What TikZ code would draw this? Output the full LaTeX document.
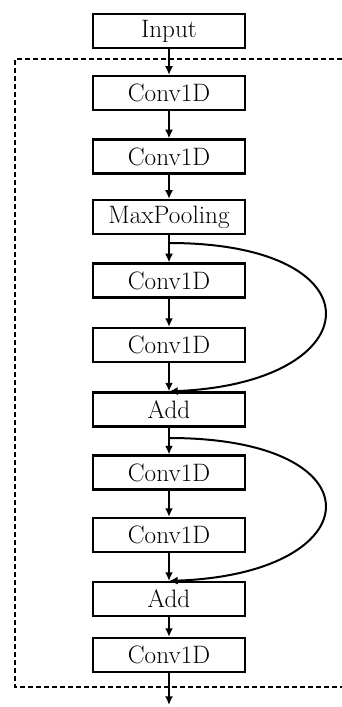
\documentclass[tikz,border=0pt]{standalone}
\usetikzlibrary{arrows.meta}
\begin{document}
\begin{tikzpicture}[x=0.03cm, y=-0.03cm,
	layer/.style={draw, line width=0.065cm, minimum width=4.56cm, minimum height=1.02cm, inner sep=0pt, font=\fontsize{21.5}{25}\selectfont},
	flow/.style={-{Latex[length=0.26cm,width=0.24cm]}, line width=0.06cm}]
	\useasboundingbox (0,0) rectangle (342,707);
	\draw[line width=0.06cm, dash pattern=on 0.15cm off 0.09cm] (342,59) -| (15,687) -- (342,687);
	\node[layer] (In) at (169,31) {Input};
	\node[layer] (C1) at (169,93) {Conv1D};
	\node[layer] (C2) at (169,156.5) {Conv1D};
	\node[layer] (P) at (169,217) {MaxPooling};
	\node[layer] (C3) at (169,280.5) {Conv1D};
	\node[layer] (C4) at (169,345) {Conv1D};
	\node[layer] (Ad) at (169,409.5) {Add};
	\node[layer] (C5) at (169,472.5) {Conv1D};
	\node[layer] (C6) at (169,535) {Conv1D};
	\node[layer] (Ad2) at (169,599) {Add};
	\node[layer] (C7) at (169,655) {Conv1D};
	\coordinate (S1) at (169,243);
	\coordinate (S2) at (169,438);
	\coordinate (Out) at (169,705);
	\draw[flow] (In) -- (C1);
	\draw[flow] (C1) -- (C2);
	\draw[flow] (C2) -- (P);
	\draw[flow] (P) -- (C3);
	\draw[flow] (C3) -- (C4);
	\draw[flow] (C4) -- (Ad);
	\draw[flow] (Ad) -- (C5);
	\draw[flow] (C5) -- (C6);
	\draw[flow] (C6) -- (Ad2);
	\draw[flow] (Ad2) -- (C7);
	\draw[flow] (C7) -- (Out);
	% skip connections
	\draw[flow] (S1) .. controls (382,243) and (372,383) .. (Ad.north);
	\draw[flow] (S2) .. controls (382,438) and (372,574) .. (Ad2.north);
\end{tikzpicture}
\end{document}
